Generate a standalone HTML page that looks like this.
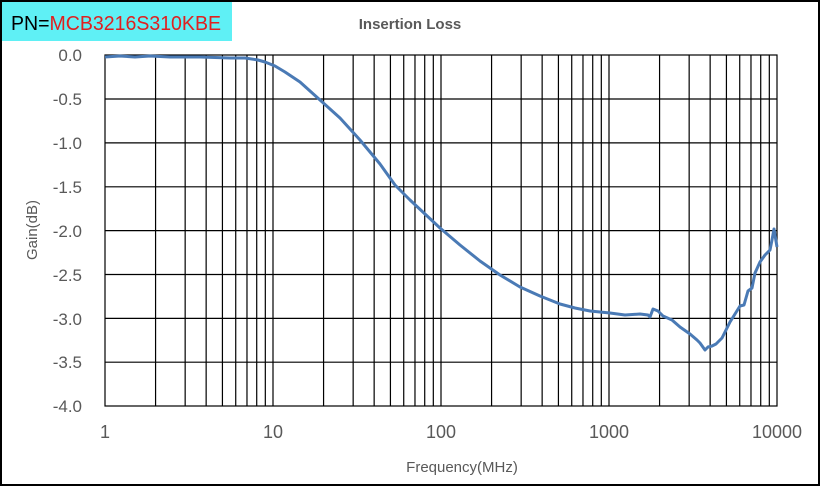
<!DOCTYPE html>
<html><head><style>
html,body{margin:0;padding:0;background:#fff;}
</style></head><body>
<svg width="821" height="487" viewBox="0 0 821 487" xmlns="http://www.w3.org/2000/svg" style="display:block">
<rect x="1" y="1" width="818" height="484" fill="#fff" stroke="#000" stroke-width="2"/>
<rect x="2" y="2" width="230" height="39" fill="#5ff0f5"/>
<text x="11" y="30" font-family="Liberation Sans, sans-serif" font-size="20" fill="#000" textLength="210" lengthAdjust="spacingAndGlyphs">PN=<tspan fill="#e02020">MCB3216S310KBE</tspan></text>
<text x="410" y="29" text-anchor="middle" font-family="Liberation Sans, sans-serif" font-size="15" font-weight="bold" fill="#595959">Insertion Loss</text>
<g stroke="#000" stroke-width="1.2" fill="none">
<rect x="105" y="55" width="672" height="351"/>
<path d="M105 99H777M105 142.9H777M105 186.8H777M105 230.6H777M105 274.5H777M105 318.4H777M105 362.2H777"/>
</g>
<g id="v" stroke="#000" stroke-width="1.2"></g>
<g font-family="Liberation Sans, sans-serif" font-size="17" fill="#595959" text-anchor="end">
<text x="82" y="61">0.0</text><text x="82" y="105">-0.5</text><text x="82" y="149">-1.0</text><text x="82" y="193">-1.5</text><text x="82" y="237">-2.0</text><text x="82" y="281">-2.5</text><text x="82" y="325">-3.0</text><text x="82" y="368">-3.5</text><text x="82" y="412">-4.0</text>
</g>
<g font-family="Liberation Sans, sans-serif" font-size="18" fill="#595959" text-anchor="middle">
<text x="105" y="438">1</text><text x="273" y="438">10</text><text x="441" y="438">100</text><text x="609" y="438">1000</text><text x="777" y="438">10000</text>
</g>
<text x="462" y="472" text-anchor="middle" font-family="Liberation Sans, sans-serif" font-size="15" fill="#595959">Frequency(MHz)</text>
<text transform="translate(37,230) rotate(-90)" text-anchor="middle" font-family="Liberation Sans, sans-serif" font-size="15" fill="#595959">Gain(dB)</text>
<polyline fill="none" stroke="#4a7ab5" stroke-width="3" stroke-linejoin="round" points="105,57 120,56 135,57 150,56 170,57 200,57 230,58 245,58 258,60 265,62 275,66 285,72 300,82 320,100 340,118 360,140 380,164 395,185 410,200 425,214 440,228 460,245 480,261 500,275 520,287 540,296 560,304 575,308 590,311 610,313 625,315 640,314 648,315 650,317 653,309 658,311 663,316 672,320 680,327 690,334 697,340 700,343 705,350 708,347 712,346 716,344 722,338 730,322 740,306 744,305 748,291 752,288 755,273 760,262 765,255 770,250 772,240 774,229 777,247"/>
</svg>
<script>
(function(){var g=document.getElementById('v'),s='';
for(var d=0;d<4;d++)for(var m=2;m<=9;m++){var x=105+168*(d+Math.log10(m));s+='<line x1="'+x+'" y1="55" x2="'+x+'" y2="406"/>';}
[273,441,609].forEach(function(x){s+='<line x1="'+x+'" y1="55" x2="'+x+'" y2="406"/>';});
g.innerHTML=s;})();
</script>
</body></html>
